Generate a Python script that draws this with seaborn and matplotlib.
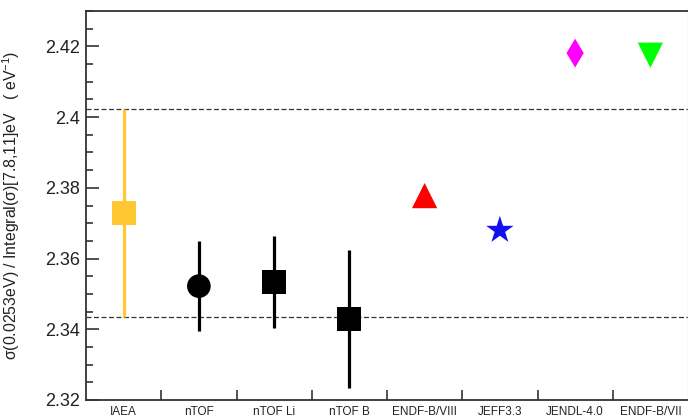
import numpy as np
import pandas as pd
import matplotlib
matplotlib.use("Agg")
import matplotlib.pyplot as plt
import seaborn as sns
from matplotlib.ticker import MultipleLocator, FuncFormatter

# Ratio of thermal cross section to the resonance integral over [7.8, 11] eV
labels = ["IAEA", "nTOF", "nTOF Li", "nTOF B", "ENDF-B/VIII", "JEFF3.3", "JENDL-4.0", "ENDF-B/VII"]
ratios = [2.3729, 2.3522, 2.3534, 2.3428, 2.3778, 2.3680, 2.4181, 2.4175]
errors = [0.0293, 0.0128, 0.0131, 0.0195, 0.0, 0.0, 0.0, 0.0]
colors = ["#FFC832", "#000000", "#000000", "#000000", "#FF0000", "#1010F0", "#FF00FF", "#00FF00"]
markers = ["s", "o", "s", "s", "^", "*", "d", "v"]
sizes = [300, 290, 300, 300, 330, 430, 215, 330]

sns.set_theme(style="white")
plt.rcParams["font.family"] = ["Liberation Sans", "DejaVu Sans"]
plt.rcParams["mathtext.fontset"] = "custom"
plt.rcParams["mathtext.rm"] = "Liberation Sans"
plt.rcParams["mathtext.it"] = "Liberation Sans:italic"

df = pd.DataFrame({"label": labels, "ratio": ratios, "err": errors})
df["pos"] = np.arange(len(labels))

fig = plt.figure(figsize=(6.88, 4.17), dpi=100)
ax = fig.add_axes([86 / 688, 1 - 400 / 417, 602 / 688, 389 / 417])

# Band spanned by the IAEA recommended value
iaea_lo = ratios[0] - errors[0]
iaea_hi = ratios[0] + errors[0]
for yv in (iaea_lo, iaea_hi):
    ax.axhline(yv, color="#333333", lw=0.9, ls=(0, (4, 2)), zorder=1)

# Error bars for the measured values
for _, row in df.iterrows():
    if row["err"] > 0:
        ax.errorbar(row["pos"], row["ratio"], yerr=row["err"], fmt="none",
                    ecolor=colors[int(row["pos"])], elinewidth=2.3, capsize=0, zorder=2)

sns.scatterplot(data=df, x="pos", y="ratio", hue="label", style="label",
                palette=dict(zip(labels, colors)), markers=dict(zip(labels, markers)),
                size="label", sizes=dict(zip(labels, sizes)),
                linewidth=0, legend=False, ax=ax, zorder=3)

ax.set_xlim(-0.5, len(labels) - 0.5)
ax.set_ylim(2.32, 2.43)

# Category labels at bin centres, tick marks at bin edges
ax.set_xticks(np.arange(len(labels)))
ax.set_xticklabels(labels, fontsize=8.5)
ax.set_xticks(np.arange(len(labels) - 1) + 0.5, minor=True)
ax.tick_params(axis="x", which="major", length=0, pad=4, colors="#222222")
ax.tick_params(axis="x", which="minor", direction="in", length=7.5, width=1.2,
               color="#333333", bottom=True)

ax.yaxis.set_major_locator(MultipleLocator(0.02))
ax.yaxis.set_minor_locator(MultipleLocator(0.005))
ax.yaxis.set_major_formatter(FuncFormatter(lambda v, p: f"{v:g}"))
ax.tick_params(axis="y", which="major", direction="in", length=9, width=1.2,
               labelsize=13, pad=4, left=True, color="#333333", labelcolor="#222222")
ax.tick_params(axis="y", which="minor", direction="in", length=5, width=1.2,
               left=True, color="#333333")

ax.set_xlabel("")
ax.set_ylabel(r"σ(0.0253eV) / Integral(σ)[7.8,11]eV   ( eV$^{-1}$)", fontsize=11.4,
              color="#222222")
ax.yaxis.set_label_coords((22 - 86) / 602, 0.5)

for side in ("left", "bottom", "top"):
    ax.spines[side].set_color("#333333")
    ax.spines[side].set_linewidth(1.3)
ax.spines["right"].set_color("#dddddd")
ax.spines["right"].set_linewidth(1.0)

fig.savefig("out.png", dpi=100)
